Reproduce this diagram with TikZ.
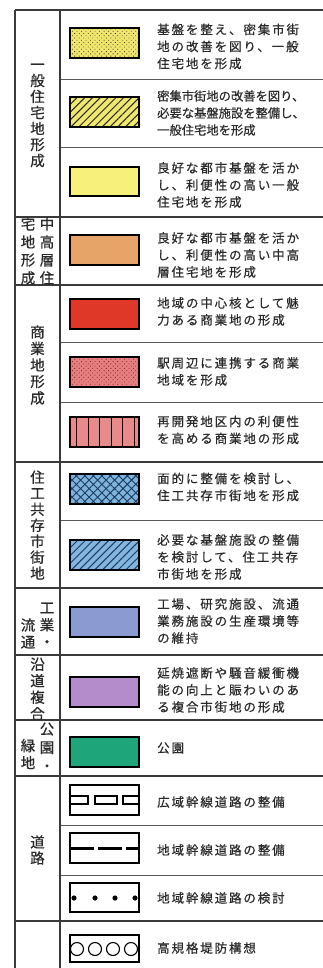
\documentclass[tikz,border=0pt]{standalone}
\usepackage{fontspec}
\newfontfamily\jpw[LetterSpace=15,FakeBold=0.4]{Noto Sans CJK JP}
\newfontfamily\jpn[FakeBold=0.4]{Noto Sans CJK JP}
\newfontfamily\jp[FakeBold=0.5]{Noto Sans CJK JP}
\usetikzlibrary{patterns.meta}
\definecolor{lnc}{HTML}{3A3A3A}
\definecolor{txc}{HTML}{2A2A2A}
\definecolor{cA}{HTML}{F0E66C}
\definecolor{cB}{HTML}{F0E86E}
\definecolor{cC}{HTML}{F7F07A}
\definecolor{cD}{HTML}{E6A468}
\definecolor{cE}{HTML}{E03828}
\definecolor{cF}{HTML}{E68080}
\definecolor{cG}{HTML}{E88A8A}
\definecolor{cH}{HTML}{7EB4DC}
\definecolor{cI}{HTML}{82B6DE}
\definecolor{cJ}{HTML}{8C9AD2}
\definecolor{cK}{HTML}{B48CCB}
\definecolor{cL}{HTML}{1FA57A}
\definecolor{navy}{HTML}{1E3A60}
\definecolor{dred}{HTML}{8A2020}
\begin{document}
\begin{tikzpicture}[x=1pt,y=-1pt,
  grp/.style={draw=lnc,line width=1.2pt},
  inr/.style={draw=lnc!85,line width=1pt},
  sw/.style={draw=black,line width=1.1pt},
  txt/.style={font=\jpw\fontsize{12.5}{17}\selectfont,align=left,inner sep=0pt,text=txc,anchor=west},
  txn/.style={font=\jpn\fontsize{12.3}{17}\selectfont,align=left,inner sep=0pt,text=txc,anchor=west},
  lab/.style={font=\jp\fontsize{14.5}{16.5}\selectfont,align=center,inner sep=0pt,text=txc}]
\useasboundingbox (0,0) rectangle (323,968);
\fill[white] (0,0) rectangle (323,968);

% table lines
\foreach \yy in {10,217,285,462,588,655,720,776,921}
  \draw[grp] (15,\yy) -- (323,\yy);
\foreach \yy in {80,148,342,402,520,825,875}
  \draw[inr] (60,\yy) -- (323,\yy);
\draw[grp] (15,10) -- (15,968);
\draw[grp] (60,10) -- (60,968);

% swatches
\fill[cA] (70,28) rectangle (139,58);
\fill[pattern={Dots[radius=0.6pt,distance=3.2pt,angle=45]},pattern color=black!80] (70,28) rectangle (139,58);
\draw[sw] (70,28) rectangle (139,58);

\fill[cB] (70,97) rectangle (139,127);
\fill[pattern={Lines[angle=45,distance=5.5pt,line width=1pt]},pattern color=black!85] (70,97) rectangle (139,127);
\draw[sw] (70,97) rectangle (139,127);

\fill[cC] (70,167) rectangle (139,196);
\draw[sw] (70,167) rectangle (139,196);

\fill[cD] (70,235) rectangle (139,265);
\draw[sw] (70,235) rectangle (139,265);

\fill[cE] (70,299) rectangle (139,329);
\draw[sw] (70,299) rectangle (139,329);

\fill[cF] (70,357) rectangle (139,387);
\fill[pattern={Dots[radius=0.6pt,distance=3.2pt,angle=45]},pattern color=dred] (70,357) rectangle (139,387);
\draw[sw] (70,357) rectangle (139,387);

\fill[cG] (70,417) rectangle (139,447);
\foreach \xx in {76.5,88,99.5,111,122.5,134}
  \draw[black,line width=1pt] (\xx,417) -- (\xx,447);
\draw[sw] (70,417) rectangle (139,447);

\fill[cH] (70,474) rectangle (139,504);
\fill[pattern={Hatch[angle=45,distance=6pt,line width=0.9pt]},pattern color=navy] (70,474) rectangle (139,504);
\draw[sw] (70,474) rectangle (139,504);

\fill[cI] (70,540) rectangle (139,570);
\fill[pattern={Lines[angle=45,distance=5.5pt,line width=1pt]},pattern color=navy] (70,540) rectangle (139,570);
\draw[sw] (70,540) rectangle (139,570);

\fill[cJ] (70,607) rectangle (139,637);
\draw[sw] (70,607) rectangle (139,637);

\fill[cK] (70,677) rectangle (139,707);
\draw[sw] (70,677) rectangle (139,707);

\fill[cL] (70,737) rectangle (139,767);
\draw[sw] (70,737) rectangle (139,767);

% road symbols
\draw[sw] (70,785) rectangle (139,815);
\draw[black,line width=1.2pt] (70,796) -- (88,796) -- (88,804) -- (70,804);
\draw[black,line width=1.2pt] (95,796) rectangle (117,804);
\draw[black,line width=1.2pt] (139,796) -- (123,796) -- (123,804) -- (139,804);

\draw[sw] (70,833) rectangle (139,863);
\draw[black,line width=3pt,dash pattern=on 24pt off 4pt] (70,848) -- (139,848);

\draw[sw] (70,883) rectangle (139,912);
\foreach \xx in {74,95,115,135}
  \fill[black] (\xx,898) circle (2.6);

\draw[sw] (70,935) rectangle (139,962);
\foreach \xx in {77,95,113,131}
  \draw[black,line width=1.1pt] (\xx,949) circle (6.5);

% descriptions
\node[txt] (d1) at (157,46.5) {基盤を整え、密集市街\\地の改善を図り、一般\\住宅地を形成};
\node[txn] (d2) at (157,113) {密集市街地の改善を図り、\\必要な基盤施設を整備し、\\一般住宅地を形成};
\node[txt] (d3) at (157,185) {良好な都市基盤を活か\\し、利便性の高い一般\\住宅地を形成};
\node[txt] (d4) at (157,255) {良好な都市基盤を活か\\し、利便性の高い中高\\層住宅地を形成};
\node[txt] (d5) at (157,311.5) {地域の中心核として魅\\力ある商業地の形成};
\node[txt] (d6) at (157,371.5) {駅周辺に連携する商業\\地域を形成};
\node[txt] (d7) at (157,430) {再開発地区内の利便性\\を高める商業地の形成};
\node[txt] (d8) at (157,487) {面的に整備を検討し、\\住工共存市街地を形成};
\node[txt] (d9) at (157,557) {必要な基盤施設の整備\\を検討して、住工共存\\市街地を形成};
\node[txt] (d10) at (157,621) {工場、研究施設、流通\\業務施設の生産環境等\\の維持};
\node[txt] (d11) at (157,690) {延焼遮断や騒音緩衝機\\能の向上と賑わいのあ\\る複合市街地の形成};
\node[txt] (d12) at (157,748) {公園};
\node[txt] (d13) at (157,802) {広域幹線道路の整備};
\node[txt] (d14) at (157,850) {地域幹線道路の整備};
\node[txt] (d15) at (157,898) {地域幹線道路の検討};
\node[txt] (d16) at (157,948) {高規格堤防構想};

% group labels
\node[lab,font=\jp\fontsize{14.5}{16}\selectfont] (g1) at (37.5,115.5) {一\\般\\住\\宅\\地\\形\\成};
\node[lab,font=\jp\fontsize{14.5}{18}\selectfont] (g2a) at (47,251) {中\\高\\層\\住};
\node[lab,font=\jp\fontsize{14.5}{18}\selectfont] (g2b) at (28,251) {宅\\地\\形\\成};
\node[lab] (g3) at (37.5,365) {商\\業\\地\\形\\成};
\node[lab,font=\jp\fontsize{14.5}{16}\selectfont] (g4) at (37.5,525) {住\\工\\共\\存\\市\\街\\地};
\node[lab,font=\jp\fontsize{14.5}{17}\selectfont] (g5a) at (47,625) {工\\業\\・};
\node[lab,font=\jp\fontsize{14.5}{17}\selectfont] (g5b) at (28,633.5) {流\\通};
\node[lab] (g6) at (37.5,689) {沿\\道\\複\\合};
\node[lab,font=\jp\fontsize{14.5}{18.5}\selectfont] (g7a) at (47,747) {公\\園\\・};
\node[lab,font=\jp\fontsize{14.5}{17}\selectfont] (g7b) at (28,754) {緑\\地};
\node[lab,font=\jp\fontsize{14.5}{16}\selectfont] (g8) at (37.5,850) {道\\路};
\end{tikzpicture}
\end{document}
